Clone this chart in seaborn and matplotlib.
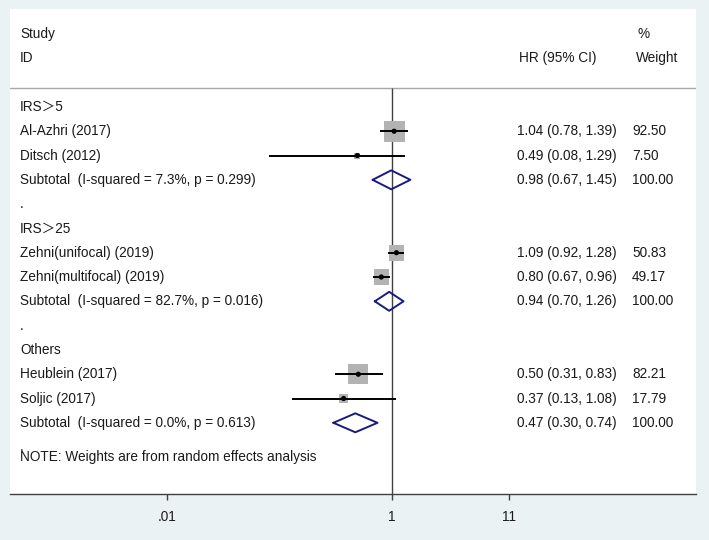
import numpy as np
import pandas as pd
import seaborn as sns
import matplotlib.pyplot as plt
from matplotlib.transforms import blended_transform_factory
from matplotlib.ticker import NullLocator

# Forest plot data (one entry per row, top to bottom)
row_labels = ['IRS＞5', 'Al-Azhri (2017)', 'Ditsch (2012)',
              'Subtotal  (I-squared = 7.3%, p = 0.299)', '.',
              'IRS＞25', 'Zehni(unifocal) (2019)', 'Zehni(multifocal) (2019)',
              'Subtotal  (I-squared = 82.7%, p = 0.016)', '.',
              'Others', 'Heublein (2017)', 'Soljic (2017)',
              'Subtotal  (I-squared = 0.0%, p = 0.613)', '.']
row_type = ['group', 'study', 'study', 'subtotal', 'blank',
            'group', 'study', 'study', 'subtotal', 'blank',
            'group', 'study', 'study', 'subtotal', 'blank']
hr = [np.nan, 1.04, 0.49, 0.98, np.nan,
      np.nan, 1.09, 0.80, 0.94, np.nan,
      np.nan, 0.50, 0.37, 0.47, np.nan]
ci_lo = [np.nan, 0.78, 0.08, 0.67, np.nan,
         np.nan, 0.92, 0.67, 0.70, np.nan,
         np.nan, 0.31, 0.13, 0.30, np.nan]
ci_hi = [np.nan, 1.39, 1.29, 1.45, np.nan,
         np.nan, 1.28, 0.96, 1.26, np.nan,
         np.nan, 0.83, 1.08, 0.74, np.nan]
weight = [np.nan, 92.50, 7.50, 100.00, np.nan,
          np.nan, 50.83, 49.17, 100.00, np.nan,
          np.nan, 82.21, 17.79, 100.00, np.nan]
tick_vals = [0.01, 1, 11]
tick_labels = ['.01', '1', '11']
note = 'NOTE: Weights are from random effects analysis'

df = pd.DataFrame({'label': row_labels, 'type': row_type, 'hr': hr,
                   'lo': ci_lo, 'hi': ci_hi, 'w': weight})
df['row'] = np.arange(len(df))
studies = df[df['type'] == 'study']
subs = df[df['type'] == 'subtotal']

sns.set_theme(style='white')
plt.rcParams['font.family'] = ['Liberation Sans', 'Noto Sans CJK SC', 'DejaVu Sans']
fs = 9.8
txt_col = '#1a1a1a'

fig = plt.figure(figsize=(7.09, 5.40), dpi=100)
fig.patch.set_facecolor('#EAF2F3')
W, H = 709, 540
ax = fig.add_axes([10 / W, (H - 494) / H, 686 / W, 485 / H])
ax.set_facecolor('white')

# log x scale aligned so that 1 sits at x=392 px
ax.set_xscale('log')
ax.set_xlim(0.000402, 500)
ax.set_ylim(15.93, -4.03)

# header rule and null line
ax.axhline(-0.78, color='#A8A8A8', lw=1, zorder=1)
ax.vlines(1, -0.78, 15.93, color='#404040', lw=1, zorder=1)

# weight squares
sns.scatterplot(data=studies, x='hr', y='row', size='w', sizes=(0, 250),
                size_norm=(0, 100), marker='s', color='#B3B3B3',
                edgecolor='none', legend=False, ax=ax, zorder=2)
# CI lines
ax.hlines(studies['row'], studies['lo'], studies['hi'], color='black',
          lw=1.4, zorder=3)
# point estimates
sns.scatterplot(data=studies, x='hr', y='row', s=14, color='black',
                edgecolor='none', legend=False, ax=ax, zorder=4)

# subtotal diamonds
dh = 0.39
for _, r in subs.iterrows():
    xs = [r['lo'], r['hr'], r['hi'], r['hr'], r['lo']]
    ys = [r['row'], r['row'] - dh, r['row'], r['row'] + dh, r['row']]
    ax.plot(xs, ys, color='#1A1A80', lw=1.4, zorder=4)

# text columns
tr = blended_transform_factory(fig.transFigure, ax.transData)
for _, r in df.iterrows():
    ax.text(20 / W, r['row'], r['label'], transform=tr, fontsize=fs,
            va='center', ha='left', color=txt_col)
    if not np.isnan(r['hr']):
        ax.text(517 / W, r['row'],
                f"{r['hr']:.2f} ({r['lo']:.2f}, {r['hi']:.2f})",
                transform=tr, fontsize=fs, va='center', ha='left', color=txt_col)
        ax.text(632 / W, r['row'], f"{r['w']:.2f}", transform=tr,
                fontsize=fs, va='center', ha='left', color=txt_col)
ax.text(20 / W, 14.4, note, transform=tr, fontsize=fs, va='center',
        ha='left', color=txt_col)

# header
ax.text(20 / W, -3, 'Study', transform=tr, fontsize=fs, va='center', color=txt_col)
ax.text(20 / W, -2, 'ID', transform=tr, fontsize=fs, va='center', color=txt_col)
ax.text(519 / W, -2, 'HR (95% CI)', transform=tr, fontsize=fs, va='center', color=txt_col)
ax.text(637 / W, -3, '%', transform=tr, fontsize=fs, va='center', color=txt_col)
ax.text(636 / W, -2, 'Weight', transform=tr, fontsize=fs, va='center', color=txt_col)

# axis styling
for s in ['left', 'right', 'top']:
    ax.spines[s].set_visible(False)
ax.spines['bottom'].set_color('#404040')
ax.spines['bottom'].set_linewidth(1)
ax.set_xticks(tick_vals)
ax.set_xticklabels(tick_labels)
ax.xaxis.set_minor_locator(NullLocator())
ax.tick_params(axis='x', direction='out', length=4, width=1, color='#404040',
               labelsize=fs, pad=7.5, labelcolor=txt_col, bottom=True)
ax.set_yticks([])
ax.set_xlabel('')
ax.set_ylabel('')

fig.savefig('out.png', dpi=100, facecolor=fig.get_facecolor())
